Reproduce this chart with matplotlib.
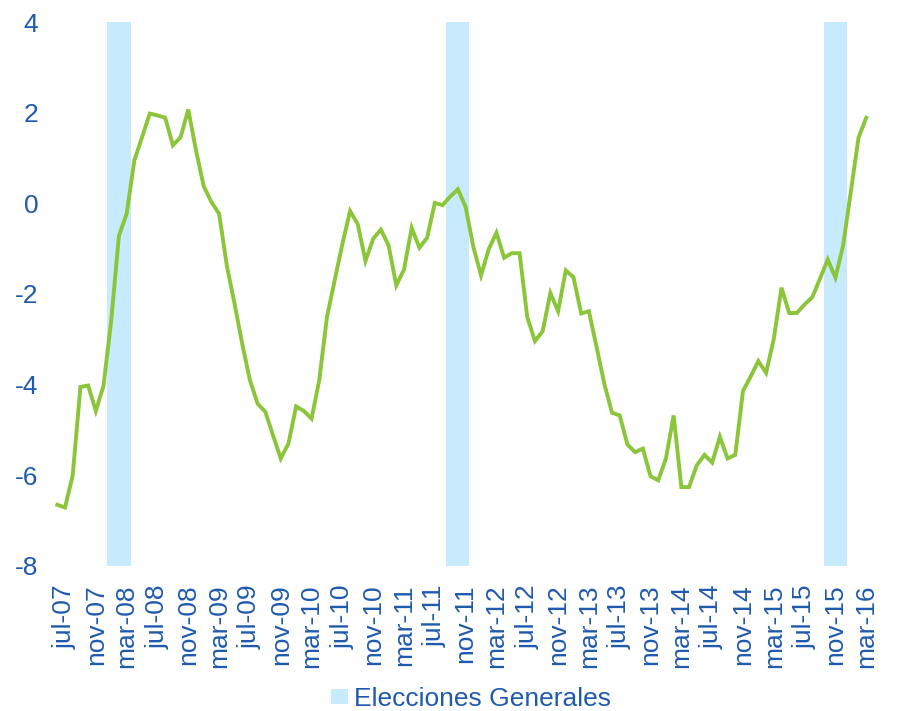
import matplotlib.pyplot as plt
import numpy as np
import pandas as pd

plt.rcParams['font.family'] = ['Liberation Sans', 'DejaVu Sans']

# Monthly series, jun-07 .. mar-16
months = pd.period_range('2007-06', '2016-03', freq='M')
values = [
    -6.65, -6.71, -6.00, -4.05, -4.02, -4.58, -4.02,                            # 2007 jun-dic
    -2.58, -0.71, -0.23, 0.95, 1.46, 1.98, 1.94, 1.89, 1.28, 1.46, 2.07, 1.17,  # 2008
    0.38, 0.03, -0.23, -1.37, -2.21, -3.10, -3.90, -4.42, -4.60, -5.12, -5.63, -5.30,  # 2009
    -4.48, -4.58, -4.75, -3.90, -2.51, -1.70, -0.90, -0.17, -0.46, -1.27, -0.78, -0.58,  # 2010
    -0.93, -1.81, -1.46, -0.54, -0.98, -0.76, 0.01, -0.04, 0.15, 0.31, -0.08, -0.96,  # 2011
    -1.59, -1.01, -0.65, -1.20, -1.10, -1.10, -2.51, -3.04, -2.82, -1.98, -2.38, -1.48,  # 2012
    -1.63, -2.43, -2.38, -3.17, -3.98, -4.62, -4.68, -5.32, -5.49, -5.41, -6.02, -6.11,  # 2013
    -5.63, -4.68, -6.26, -6.26, -5.78, -5.55, -5.72, -5.15, -5.63, -5.55, -4.14, -3.82,  # 2014
    -3.48, -3.74, -2.99, -1.86, -2.42, -2.42, -2.23, -2.07, -1.66, -1.24, -1.64, -0.93,  # 2015
    0.26, 1.45, 1.89,                                                              # 2016
]

# Months shaded as general election periods
election_months = ['2008-01', '2008-02', '2008-03',
                   '2011-09', '2011-10', '2011-11',
                   '2015-10', '2015-11', '2015-12']

# Spanish month abbreviations for the tick labels
mes = {1: 'ene', 2: 'feb', 3: 'mar', 4: 'abr', 5: 'may', 6: 'jun',
       7: 'jul', 8: 'ago', 9: 'sep', 10: 'oct', 11: 'nov', 12: 'dic'}

text_color = '#1F5AAE'
line_color = '#8AC53A'
band_color = '#C7EBFC'
fs = 19

x = np.arange(len(months))
month_pos = {str(m): i for i, m in enumerate(months)}
band_x = [month_pos[m] for m in election_months]

fig = plt.figure(figsize=(8.97, 7.11), dpi=100)
ax = fig.add_axes([0.0596, 0.204, 0.9104, 0.765])

# election periods as full-height columns behind the line
ax.bar(band_x, [12] * len(band_x), bottom=-8, width=1.0, color=band_color,
       linewidth=0, label='Elecciones Generales', zorder=1)
ax.plot(x, values, color=line_color, linewidth=2.8, solid_joinstyle='miter', zorder=3)

ax.set_xlim(-0.5, len(months) - 0.5)
ax.set_ylim(-8, 4)
ax.set_yticks(np.arange(-8, 5, 2))
ax.set_yticklabels([str(v) for v in range(-8, 5, 2)])

# a label every 4 months: mar, jul, nov
tick_idx = [i for i, m in enumerate(months) if m.month in (3, 7, 11)]
ax.set_xticks(tick_idx)
ax.set_xticklabels([f"{mes[months[i].month]}-{months[i].year % 100:02d}" for i in tick_idx],
                   rotation=90)

for s in ax.spines.values():
    s.set_visible(False)
ax.tick_params(axis='both', length=0, colors=text_color, labelsize=fs)
ax.tick_params(axis='x', pad=13)
ax.tick_params(axis='y', pad=11)

leg = fig.legend(loc='center', bbox_to_anchor=(0.525, 0.017), frameon=False,
                 fontsize=fs, handlelength=0.64, handleheight=0.5, handletextpad=0.2,
                 borderpad=0, borderaxespad=0)
for t in leg.get_texts():
    t.set_color(text_color)

plt.savefig('out.png', dpi=100)
